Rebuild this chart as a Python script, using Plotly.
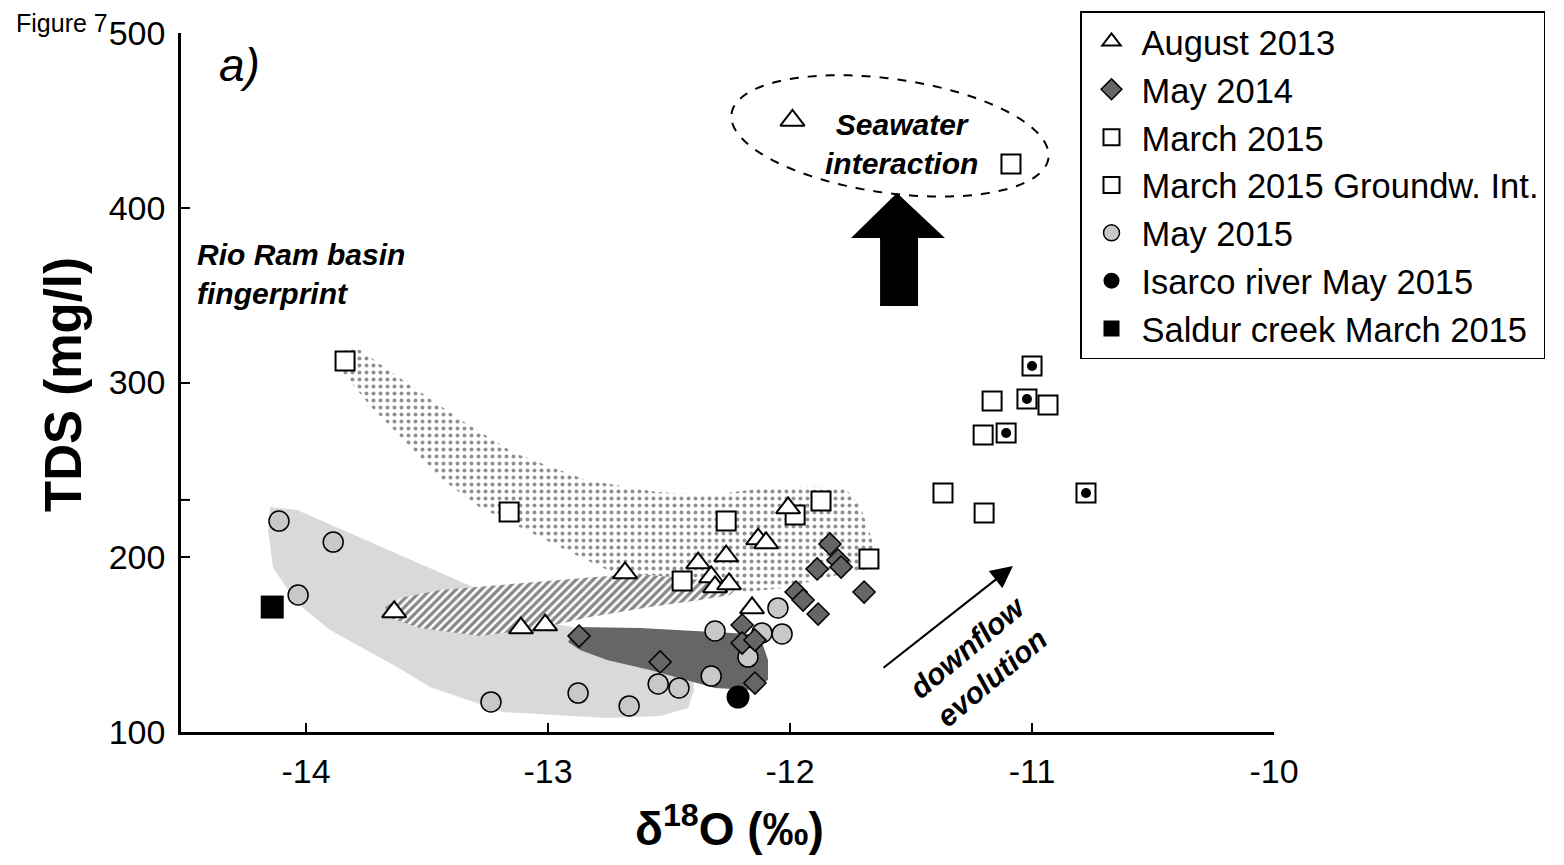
import math
import plotly.graph_objects as go

# ---------------- sample values: d18O (permil) and TDS (mg/l) ----------------
aug2013_d18o = [-11.99, -13.636, -13.112, -13.012, -12.682, -12.380, -12.326,
                -12.310, -12.264, -12.252, -12.157, -12.132, -12.099, -12.008]
aug2013_tds = [450.0, 168.7, 159.5, 161.2, 191.0, 196.7, 188.7,
               183.0, 200.7, 184.7, 171.0, 210.4, 208.2, 228.2]

may2014_d18o = [-12.872, -12.537, -12.198, -12.198, -12.145, -12.145, -11.975,
                -11.946, -11.884, -11.888, -11.835, -11.802, -11.789, -11.694]
may2014_tds = [154.9, 140.1, 161.2, 150.9, 152.6, 128.0, 180.1,
               175.5, 167.5, 193.3, 207.6, 198.4, 194.4, 180.1]

mar2015_d18o = [-13.839, -13.161, -12.446, -12.264, -11.979, -11.872, -11.674,
                -11.087, -11.165, -10.934, -11.202, -11.368, -11.198]
mar2015_tds = [312.3, 225.9, 186.4, 220.7, 224.2, 232.2, 199.0,
               425.0, 289.4, 287.1, 270.0, 236.8, 225.3]

gw2015_d18o = [-11.000, -11.021, -11.107, -10.777]
gw2015_tds = [309.4, 290.6, 271.1, 236.8]

may2015_d18o = [-14.112, -13.888, -14.033, -13.236, -12.876, -12.665, -12.545,
                -12.459, -12.326, -12.310, -12.174, -12.116, -12.050, -12.033]
may2015_tds = [220.7, 208.7, 178.4, 117.2, 122.3, 114.9, 127.5,
               125.2, 132.0, 157.8, 142.9, 156.7, 171.0, 156.1]

isarco_d18o = [-12.215]
isarco_tds = [120.0]

saldur_d18o = [-14.140]
saldur_tds = [171.5]

# ---------------- envelopes (d18O, TDS vertices) ----------------
env_may2015_x = [-14.149, -14.037, -13.310, -12.950, -12.620, -12.405, -12.397, -12.421,
                 -12.537, -12.756, -13.186, -13.488, -13.624, -13.901, -14.037, -14.136, -14.157]
env_may2015_y = [228.8, 227.0, 183.0, 161.2, 153.8, 146.9, 124.0, 113.7,
                 109.2, 108.0, 111.4, 125.8, 137.2, 158.4, 173.8, 193.8, 215.6]

env_may2014_x = [-12.917, -12.880, -12.620, -12.372, -12.165, -12.112, -12.091,
                 -12.091, -12.165, -12.310, -12.413, -12.579, -12.756, -12.868]
env_may2014_y = [151.5, 160.1, 159.5, 157.8, 156.1, 149.8, 141.2,
                 129.8, 124.0, 125.2, 129.2, 135.5, 141.2, 146.9]

env_aug2013_x = [-13.674, -13.612, -13.446, -13.198, -12.950, -12.702, -12.455, -12.269,
                 -12.207, -12.248, -12.372, -12.579, -12.826, -13.033, -13.281, -13.529, -13.653]
env_aug2013_y = [171.5, 176.7, 181.3, 184.1, 187.0, 189.8, 193.8, 192.7,
                 184.1, 178.4, 175.5, 171.5, 165.8, 159.5, 154.9, 159.5, 165.2]

env_rioram_x = [-13.868, -13.789, -13.583, -13.360, -13.140, -12.843, -12.550, -12.326,
                -12.107, -11.884, -11.773, -11.711, -11.661, -11.636, -11.752, -11.888,
                -12.029, -12.186, -12.372, -12.579, -12.727, -12.843, -13.066, -13.285,
                -13.434, -13.583, -13.731, -13.847]
env_rioram_y = [317.5, 319.7, 299.7, 278.5, 259.7, 244.2, 237.3, 235.6,
                239.6, 240.8, 239.6, 229.9, 209.9, 193.8, 191.6, 187.0,
                182.4, 180.1, 187.0, 189.8, 191.0, 198.4, 213.9, 228.8,
                244.2, 265.4, 286.0, 305.4]

# ---------------- axes ----------------
x_range = [-14.517, -10.0]
y_range = [100, 500]
x_tick_vals = [-14, -13, -12, -11, -10]
x_tick_text = ["-14", "-13", "-12", "-11", "-10"]
y_tick_vals = [100, 200, 300, 400, 500]
y_tick_text = ["100", "200", "300", "400", "500"]

FONT = "Liberation Sans, Arial, Helvetica, sans-serif"
W, H = 1564, 865
M_L, M_R, M_T, M_B = 181, 290, 33, 133
PLOT_W = W - M_L - M_R
PLOT_H = H - M_T - M_B
PX_PER_X = PLOT_W / (x_range[1] - x_range[0])
PX_PER_Y = PLOT_H / (y_range[1] - y_range[0])


def paper_x(px):
    return (px - M_L) / PLOT_W


def paper_y(py):
    return (M_T + PLOT_H - py) / PLOT_H


fig = go.Figure()


def envelope(xs, ys, **kw):
    fig.add_trace(go.Scatter(
        x=xs + xs[:1], y=ys + ys[:1], mode="lines", fill="toself",
        line=dict(width=0), hoverinfo="skip", showlegend=False, **kw))


envelope(env_may2015_x, env_may2015_y, fillcolor="#d9d9d9")
envelope(env_aug2013_x, env_aug2013_y, fillcolor="white",
         fillpattern=dict(shape="/", fgcolor="#111111", bgcolor="white",
                          size=6, solidity=0.55))
envelope(env_rioram_x, env_rioram_y, fillcolor="white",
         fillpattern=dict(shape=".", fgcolor="#222222", bgcolor="white",
                          size=7, solidity=0.26))
envelope(env_may2014_x, env_may2014_y, fillcolor="#666666")

# ---------------- sample series ----------------
fig.add_trace(go.Scatter(
    x=mar2015_d18o, y=mar2015_tds, mode="markers", name="March 2015", legendrank=3,
    marker=dict(symbol="square", size=19, color="white",
                line=dict(color="black", width=2))))
fig.add_trace(go.Scatter(
    x=gw2015_d18o, y=gw2015_tds, mode="markers", name="March 2015 Groundw. Int.",
    legendgroup="gw", legendrank=4,
    marker=dict(symbol="square", size=19, color="white",
                line=dict(color="black", width=2))))
fig.add_trace(go.Scatter(
    x=gw2015_d18o, y=gw2015_tds, mode="markers", legendgroup="gw",
    showlegend=False, hoverinfo="skip",
    marker=dict(symbol="circle", size=10, color="black", line=dict(width=0))))
fig.add_trace(go.Scatter(
    x=aug2013_d18o, y=aug2013_tds, mode="markers", name="August 2013", legendrank=1,
    marker=dict(symbol="triangle-up", size=21, color="white",
                line=dict(color="black", width=2))))
fig.add_trace(go.Scatter(
    x=may2015_d18o, y=may2015_tds, mode="markers", name="May 2015", legendrank=5,
    marker=dict(symbol="circle", size=20, color="#c8c8c8",
                line=dict(color="black", width=1.5))))
fig.add_trace(go.Scatter(
    x=may2014_d18o, y=may2014_tds, mode="markers", name="May 2014", legendrank=2,
    marker=dict(symbol="diamond", size=17, color="#666666",
                line=dict(color="black", width=1.5))))
fig.add_trace(go.Scatter(
    x=isarco_d18o, y=isarco_tds, mode="markers", name="Isarco river May 2015",
    legendrank=6, marker=dict(symbol="circle", size=23, color="black")))
fig.add_trace(go.Scatter(
    x=saldur_d18o, y=saldur_tds, mode="markers", name="Saldur creek March 2015",
    legendrank=7, marker=dict(symbol="square", size=23, color="black")))


# ---------------- annotation geometry ----------------
def ellipse_path(cx, cy, a_px, b_px, tilt_deg, n=160):
    th = math.radians(tilt_deg)
    pts = []
    for k in range(n):
        t = 2 * math.pi * k / n
        dx = a_px * math.cos(t) * math.cos(th) - b_px * math.sin(t) * math.sin(th)
        dy = a_px * math.cos(t) * math.sin(th) + b_px * math.sin(t) * math.cos(th)
        pts.append((cx + dx / PX_PER_X, cy - dy / PX_PER_Y))
    return "M " + " L ".join(f"{x:.4f},{y:.3f}" for x, y in pts) + " Z"


# dashed outline around the seawater-affected samples
seawater_ellipse = ellipse_path(-11.587, 441.1, 160, 57, 8)

# block arrow pointing up to the seawater field
block_arrow = [(-11.558, 408.4), (-11.360, 382.7), (-11.471, 382.7), (-11.471, 343.8),
               (-11.628, 343.8), (-11.628, 382.7), (-11.748, 382.7)]
block_arrow_path = "M " + " L ".join(f"{x},{y}" for x, y in block_arrow) + " Z"

shapes = [
    dict(type="path", xref="x", yref="y", path=seawater_ellipse,
         line=dict(color="black", width=2, dash="dash"), fillcolor="rgba(0,0,0,0)"),
    dict(type="path", xref="x", yref="y", path=block_arrow_path,
         line=dict(width=0), fillcolor="black"),
    # extra tick on the TDS axis
    dict(type="line", xref="paper", yref="y", x0=0, x1=9 / PLOT_W, y0=232.8, y1=232.8,
         line=dict(color="black", width=2)),
]

annotations = [
    dict(text="Figure 7", xref="paper", yref="paper", x=paper_x(14), y=paper_y(23),
         xanchor="left", yanchor="middle", showarrow=False,
         font=dict(family=FONT, size=25, color="black")),
    dict(text="<i>a)</i>", xref="x", yref="y", x=-14.277, y=481.7,
         xanchor="center", yanchor="middle", showarrow=False,
         font=dict(family=FONT, size=46, color="black")),
    dict(text="<b><i>Rio Ram basin<br>fingerprint</i></b>", xref="x", yref="y",
         x=-14.459, y=362.1, xanchor="left", yanchor="middle", align="left",
         showarrow=False, font=dict(family=FONT, size=30, color="black")),
    dict(text="<b><i>Seawater<br>interaction</i></b>", xref="x", yref="y",
         x=-11.540, y=436.5, xanchor="center", yanchor="middle", showarrow=False,
         font=dict(family=FONT, size=30, color="black")),
    dict(text="<b><i>downflow<br>evolution</i></b>", xref="x", yref="y",
         x=-11.215, y=140.0, xanchor="center", yanchor="middle", textangle=-40,
         showarrow=False, font=dict(family=FONT, size=30, color="black")),
    dict(text="", xref="x", yref="y", x=-11.079, y=195.0,
         axref="x", ayref="y", ax=-11.620, ay=136.1,
         showarrow=True, arrowhead=2, arrowsize=2.0, arrowwidth=2.2, arrowcolor="black"),
    dict(text="<b>TDS (mg/l)</b>", xref="paper", yref="paper",
         x=paper_x(63), y=paper_y(385), xanchor="center", yanchor="middle",
         textangle=-90, showarrow=False,
         font=dict(family=FONT, size=51, color="black")),
    dict(text="<b>δ<sup>18</sup>O (‰)</b>", xref="paper", yref="paper",
         x=paper_x(729), y=paper_y(826), xanchor="center", yanchor="middle",
         showarrow=False, font=dict(family=FONT, size=46, color="black")),
]

axis_common = dict(showline=True, linecolor="black", linewidth=2.5, mirror=False,
                   ticks="inside", ticklen=9, tickwidth=2, tickcolor="black",
                   showgrid=False, zeroline=False,
                   tickfont=dict(family=FONT, size=34, color="black"))

fig.update_layout(
    width=W, height=H,
    margin=dict(l=M_L, r=M_R, t=M_T, b=M_B, autoexpand=False),
    paper_bgcolor="white", plot_bgcolor="white",
    xaxis=dict(range=x_range, tickmode="array", tickvals=x_tick_vals,
               ticktext=x_tick_text, ticklabelstandoff=7, **axis_common),
    yaxis=dict(range=y_range, tickmode="array", tickvals=y_tick_vals,
               ticktext=y_tick_text, ticklabelstandoff=6, **axis_common),
    legend=dict(x=paper_x(1080), y=paper_y(11),
                xanchor="left", yanchor="top", bgcolor="white",
                bordercolor="black", borderwidth=1.5,
                font=dict(family=FONT, size=34.5, color="black"),
                itemwidth=50, tracegroupgap=0),
    shapes=shapes,
    annotations=annotations,
    showlegend=True,
)

fig.write_html("out.html")
